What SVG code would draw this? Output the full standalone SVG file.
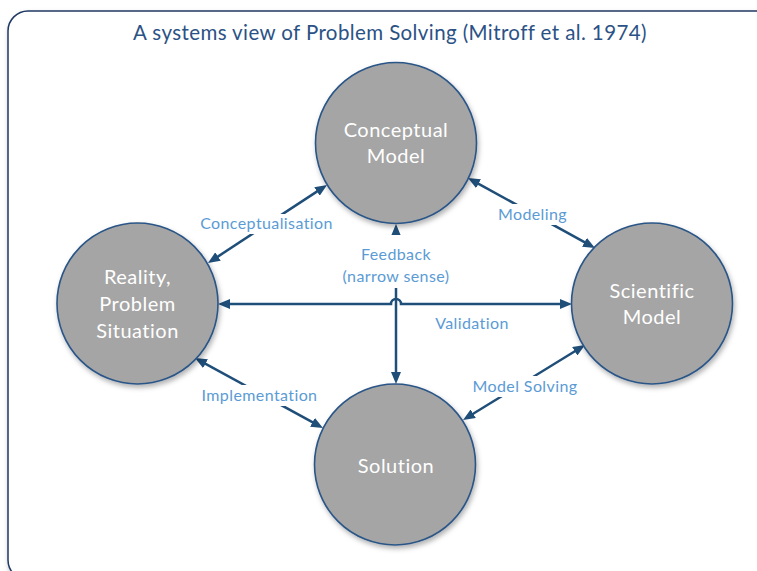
<svg xmlns="http://www.w3.org/2000/svg" width="757" height="571" viewBox="0 0 757 571">
<defs>
  <filter id="sh" x="-20%" y="-20%" width="140%" height="140%">
    <feDropShadow dx="1.5" dy="3" stdDeviation="2.5" flood-color="#000" flood-opacity="0.3"/>
  </filter>
  <marker id="ah" viewBox="0 0 12 10" refX="3" refY="5" markerWidth="12" markerHeight="10" markerUnits="userSpaceOnUse" orient="auto-start-reverse">
    <path d="M0,0 L12,5 L0,10 z" fill="#1f4e79"/>
  </marker>
  <style>
    text { font-variant-ligatures:none; font-feature-settings:"liga" 0, "dlig" 0; }
    .node circle { fill:#a5a5a5; stroke:#2a5587; stroke-width:1.6; }
    .nt { font-family:Lato,"Open Sans",sans-serif; font-size:20px; letter-spacing:0.5px; fill:#ffffff; text-anchor:middle; }
    .con { stroke:#1f4e79; stroke-width:2.5; fill:none; marker-start:url(#ah); marker-end:url(#ah); }
    .lbl { font-family:Lato,"Open Sans",sans-serif; font-size:16px; letter-spacing:0.4px; fill:#5b9bd5; text-anchor:middle; }
    .mask { fill:#ffffff; }
  </style>
</defs>
<rect x="0" y="0" width="757" height="571" fill="#ffffff"/>
<g id="frame">
  <rect x="8" y="11" width="770" height="569" rx="20" ry="20" fill="#ffffff" stroke="#1f3864" stroke-width="1.5" filter="url(#sh)"/>
  <text x="390" y="40" font-family="Lato,'Open Sans',sans-serif" font-size="20.5" letter-spacing="0.4" fill="#2b5285" text-anchor="middle">A systems view of Problem Solving (Mitroff et al. 1974)</text>
</g>
<g id="connectors">
  <line class="con" x1="215.5" y1="258.1" x2="319.5" y2="189.9"/>
  <line class="con" x1="475.9" y1="182.3" x2="587.1" y2="243.7"/>
  <line class="con" x1="202.9" y1="362.3" x2="315.1" y2="423.7"/>
  <line class="con" x1="577.3" y1="349.7" x2="470.7" y2="415.3"/>
  <path class="con" d="M227,304 H391 A5,5 0 0 1 401,304 H563"/>
  <line class="con" x1="396" y1="233" x2="396" y2="375"/>
  <rect class="mask" x="198" y="214" width="138" height="20"/>
  <rect class="mask" x="495" y="204" width="76" height="21"/>
  <rect class="mask" x="198" y="385" width="124" height="21"/>
  <rect class="mask" x="470" y="376" width="110" height="21"/>
  <rect class="mask" x="340" y="235" width="113" height="53"/>
  <text class="lbl" x="266.5" y="229">Conceptualisation</text>
  <text class="lbl" x="532.5" y="220">Modeling</text>
  <text class="lbl" x="259.5" y="401">Implementation</text>
  <text class="lbl" x="525" y="392">Model Solving</text>
  <text class="lbl" x="396" y="260">Feedback</text>
  <text class="lbl" x="396" y="282">(narrow sense)</text>
  <text class="lbl" x="472" y="329">Validation</text>
</g>
<g id="conceptual" class="node">
  <circle cx="396" cy="143" r="80.5" filter="url(#sh)"/>
  <text class="nt" x="396" y="137">Conceptual</text>
  <text class="nt" x="396" y="163">Model</text>
</g>
<g id="reality" class="node">
  <circle cx="137.5" cy="303.5" r="80.5" filter="url(#sh)"/>
  <text class="nt" x="137.5" y="284">Reality,</text>
  <text class="nt" x="137.5" y="311">Problem</text>
  <text class="nt" x="137.5" y="338">Situation</text>
</g>
<g id="scientific" class="node">
  <circle cx="652" cy="303.5" r="80.5" filter="url(#sh)"/>
  <text class="nt" x="652" y="298">Scientific</text>
  <text class="nt" x="652" y="324">Model</text>
</g>
<g id="solution" class="node">
  <circle cx="395" cy="464.5" r="80.5" filter="url(#sh)"/>
  <text class="nt" x="396" y="473">Solution</text>
</g>
</svg>
